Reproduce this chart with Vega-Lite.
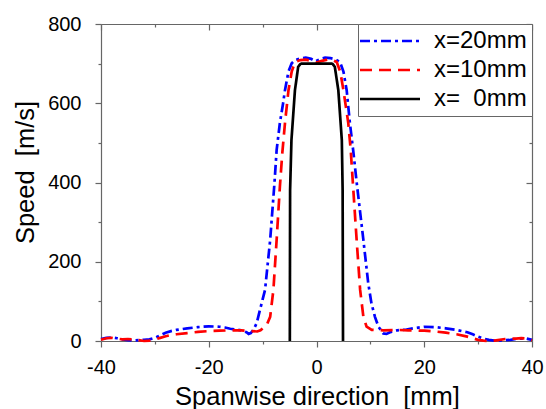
{
  "$schema": "https://vega.github.io/schema/vega-lite/v6.json",
  "width": 431,
  "height": 317,
  "autosize": "none",
  "padding": {"left": 101, "top": 24, "right": 14, "bottom": 68},
  "config": {
    "view": {"stroke": null},
    "font": "Liberation Sans",
    "axis": {
      "grid": false,
      "labelFlush": false,
      "labelOverlap": false,
      "domainColor": "#666666",
      "domainWidth": 1.2,
      "tickColor": "#666666",
      "tickWidth": 1.2,
      "labelFont": "Liberation Sans",
      "labelFontSize": 20,
      "labelColor": "#000000",
      "titleFont": "Liberation Sans",
      "titleFontSize": 25.5,
      "titleFontWeight": "normal",
      "titleColor": "#000000"
    },
    "legend": {
      "labelFont": "Liberation Sans"
    }
  },
  "resolve": {"scale": {"x": "independent", "y": "independent"}},
  "layer": [
    {
      "data": {
        "values": [
          {"series": "x=20mm", "x": -40, "y": 5},
          {"series": "x=20mm", "x": -39, "y": 8},
          {"series": "x=20mm", "x": -38, "y": 9},
          {"series": "x=20mm", "x": -37, "y": 7},
          {"series": "x=20mm", "x": -36, "y": 4},
          {"series": "x=20mm", "x": -35, "y": 2},
          {"series": "x=20mm", "x": -34, "y": 1},
          {"series": "x=20mm", "x": -33, "y": 2},
          {"series": "x=20mm", "x": -32, "y": 3},
          {"series": "x=20mm", "x": -31, "y": 4},
          {"series": "x=20mm", "x": -30, "y": 8},
          {"series": "x=20mm", "x": -29, "y": 14},
          {"series": "x=20mm", "x": -28, "y": 21},
          {"series": "x=20mm", "x": -27, "y": 25},
          {"series": "x=20mm", "x": -26, "y": 28},
          {"series": "x=20mm", "x": -24, "y": 32},
          {"series": "x=20mm", "x": -22, "y": 35},
          {"series": "x=20mm", "x": -20, "y": 37},
          {"series": "x=20mm", "x": -18, "y": 36},
          {"series": "x=20mm", "x": -17, "y": 34},
          {"series": "x=20mm", "x": -16, "y": 31},
          {"series": "x=20mm", "x": -15, "y": 29},
          {"series": "x=20mm", "x": -14, "y": 27},
          {"series": "x=20mm", "x": -13, "y": 22},
          {"series": "x=20mm", "x": -12.6, "y": 18},
          {"series": "x=20mm", "x": -12.2, "y": 20},
          {"series": "x=20mm", "x": -11.7, "y": 28},
          {"series": "x=20mm", "x": -11.1, "y": 45},
          {"series": "x=20mm", "x": -10.5, "y": 78},
          {"series": "x=20mm", "x": -10, "y": 105},
          {"series": "x=20mm", "x": -9.55, "y": 129},
          {"series": "x=20mm", "x": -8.6, "y": 255},
          {"series": "x=20mm", "x": -7.8, "y": 399},
          {"series": "x=20mm", "x": -7.4, "y": 482},
          {"series": "x=20mm", "x": -6.8, "y": 550},
          {"series": "x=20mm", "x": -6.2, "y": 600},
          {"series": "x=20mm", "x": -5.85, "y": 633},
          {"series": "x=20mm", "x": -5.2, "y": 680},
          {"series": "x=20mm", "x": -4.6, "y": 701},
          {"series": "x=20mm", "x": -4, "y": 709},
          {"series": "x=20mm", "x": -3, "y": 713},
          {"series": "x=20mm", "x": -2, "y": 715},
          {"series": "x=20mm", "x": -1, "y": 712},
          {"series": "x=20mm", "x": -0.2, "y": 706},
          {"series": "x=20mm", "x": 0.6, "y": 711},
          {"series": "x=20mm", "x": 1.6, "y": 715},
          {"series": "x=20mm", "x": 2.6, "y": 714},
          {"series": "x=20mm", "x": 3.5, "y": 711},
          {"series": "x=20mm", "x": 4.36, "y": 704},
          {"series": "x=20mm", "x": 5.0, "y": 680},
          {"series": "x=20mm", "x": 5.6, "y": 633},
          {"series": "x=20mm", "x": 6.2, "y": 550},
          {"series": "x=20mm", "x": 6.8, "y": 482},
          {"series": "x=20mm", "x": 7.5, "y": 395},
          {"series": "x=20mm", "x": 8.7, "y": 255},
          {"series": "x=20mm", "x": 9.6, "y": 146},
          {"series": "x=20mm", "x": 10.2, "y": 95},
          {"series": "x=20mm", "x": 10.85, "y": 61},
          {"series": "x=20mm", "x": 11.5, "y": 36},
          {"series": "x=20mm", "x": 12.4, "y": 19},
          {"series": "x=20mm", "x": 13, "y": 18},
          {"series": "x=20mm", "x": 13.65, "y": 22},
          {"series": "x=20mm", "x": 15, "y": 27},
          {"series": "x=20mm", "x": 16.7, "y": 29},
          {"series": "x=20mm", "x": 18, "y": 32},
          {"series": "x=20mm", "x": 20, "y": 36},
          {"series": "x=20mm", "x": 22, "y": 35},
          {"series": "x=20mm", "x": 24, "y": 32},
          {"series": "x=20mm", "x": 26, "y": 28},
          {"series": "x=20mm", "x": 28, "y": 22},
          {"series": "x=20mm", "x": 29, "y": 17},
          {"series": "x=20mm", "x": 30, "y": 11},
          {"series": "x=20mm", "x": 31, "y": 6},
          {"series": "x=20mm", "x": 32, "y": 3},
          {"series": "x=20mm", "x": 33, "y": 1},
          {"series": "x=20mm", "x": 34, "y": 1},
          {"series": "x=20mm", "x": 35, "y": 2},
          {"series": "x=20mm", "x": 36, "y": 3},
          {"series": "x=20mm", "x": 37, "y": 5},
          {"series": "x=20mm", "x": 38, "y": 6},
          {"series": "x=20mm", "x": 39, "y": 6},
          {"series": "x=20mm", "x": 40, "y": 3},

          {"series": "x=10mm", "x": -40, "y": 3},
          {"series": "x=10mm", "x": -39, "y": 7},
          {"series": "x=10mm", "x": -38, "y": 8},
          {"series": "x=10mm", "x": -37, "y": 6},
          {"series": "x=10mm", "x": -36, "y": 4},
          {"series": "x=10mm", "x": -35, "y": 5},
          {"series": "x=10mm", "x": -34, "y": 4},
          {"series": "x=10mm", "x": -33, "y": 2},
          {"series": "x=10mm", "x": -32, "y": 0},
          {"series": "x=10mm", "x": -31, "y": 1},
          {"series": "x=10mm", "x": -30, "y": 4},
          {"series": "x=10mm", "x": -29, "y": 8},
          {"series": "x=10mm", "x": -28, "y": 12},
          {"series": "x=10mm", "x": -27, "y": 15},
          {"series": "x=10mm", "x": -26, "y": 17},
          {"series": "x=10mm", "x": -24, "y": 20},
          {"series": "x=10mm", "x": -22, "y": 23},
          {"series": "x=10mm", "x": -20, "y": 25},
          {"series": "x=10mm", "x": -18, "y": 26},
          {"series": "x=10mm", "x": -16, "y": 27},
          {"series": "x=10mm", "x": -14, "y": 27},
          {"series": "x=10mm", "x": -12, "y": 25},
          {"series": "x=10mm", "x": -11, "y": 24},
          {"series": "x=10mm", "x": -10.4, "y": 27},
          {"series": "x=10mm", "x": -9.9, "y": 33},
          {"series": "x=10mm", "x": -9.25, "y": 40},
          {"series": "x=10mm", "x": -8.6, "y": 61},
          {"series": "x=10mm", "x": -8.0, "y": 129},
          {"series": "x=10mm", "x": -7.4, "y": 255},
          {"series": "x=10mm", "x": -6.8, "y": 389},
          {"series": "x=10mm", "x": -6.35, "y": 474},
          {"series": "x=10mm", "x": -5.85, "y": 550},
          {"series": "x=10mm", "x": -5.2, "y": 633},
          {"series": "x=10mm", "x": -4.6, "y": 680},
          {"series": "x=10mm", "x": -4.0, "y": 704},
          {"series": "x=10mm", "x": -3, "y": 709},
          {"series": "x=10mm", "x": -2, "y": 710},
          {"series": "x=10mm", "x": -1, "y": 707},
          {"series": "x=10mm", "x": 0, "y": 703},
          {"series": "x=10mm", "x": 1, "y": 707},
          {"series": "x=10mm", "x": 2, "y": 710},
          {"series": "x=10mm", "x": 3, "y": 709},
          {"series": "x=10mm", "x": 3.75, "y": 704},
          {"series": "x=10mm", "x": 4.4, "y": 680},
          {"series": "x=10mm", "x": 5.0, "y": 633},
          {"series": "x=10mm", "x": 5.9, "y": 550},
          {"series": "x=10mm", "x": 6.35, "y": 482},
          {"series": "x=10mm", "x": 6.8, "y": 389},
          {"series": "x=10mm", "x": 7.45, "y": 255},
          {"series": "x=10mm", "x": 8.1, "y": 129},
          {"series": "x=10mm", "x": 8.7, "y": 61},
          {"series": "x=10mm", "x": 9.3, "y": 36},
          {"series": "x=10mm", "x": 10.25, "y": 28},
          {"series": "x=10mm", "x": 12.4, "y": 27},
          {"series": "x=10mm", "x": 14.9, "y": 28},
          {"series": "x=10mm", "x": 17, "y": 27},
          {"series": "x=10mm", "x": 20, "y": 26},
          {"series": "x=10mm", "x": 22, "y": 24},
          {"series": "x=10mm", "x": 24, "y": 21},
          {"series": "x=10mm", "x": 26, "y": 17},
          {"series": "x=10mm", "x": 28, "y": 11},
          {"series": "x=10mm", "x": 29, "y": 7},
          {"series": "x=10mm", "x": 30, "y": 3},
          {"series": "x=10mm", "x": 31, "y": 1},
          {"series": "x=10mm", "x": 32, "y": 0},
          {"series": "x=10mm", "x": 33, "y": 1},
          {"series": "x=10mm", "x": 34, "y": 3},
          {"series": "x=10mm", "x": 35, "y": 5},
          {"series": "x=10mm", "x": 36, "y": 6},
          {"series": "x=10mm", "x": 37, "y": 6},
          {"series": "x=10mm", "x": 38, "y": 7},
          {"series": "x=10mm", "x": 39, "y": 6},
          {"series": "x=10mm", "x": 40, "y": 2},

          {"series": "x=\u00a0 0mm", "x": -4.95, "y": 0},
          {"series": "x=\u00a0 0mm", "x": -4.9, "y": 381},
          {"series": "x=\u00a0 0mm", "x": -4.65, "y": 507},
          {"series": "x=\u00a0 0mm", "x": -4.0, "y": 633},
          {"series": "x=\u00a0 0mm", "x": -3.4, "y": 692},
          {"series": "x=\u00a0 0mm", "x": -3.0, "y": 699},
          {"series": "x=\u00a0 0mm", "x": -2.8, "y": 700},
          {"series": "x=\u00a0 0mm", "x": 2.8, "y": 700},
          {"series": "x=\u00a0 0mm", "x": 3.0, "y": 699},
          {"series": "x=\u00a0 0mm", "x": 3.4, "y": 692},
          {"series": "x=\u00a0 0mm", "x": 4.05, "y": 633},
          {"series": "x=\u00a0 0mm", "x": 4.7, "y": 507},
          {"series": "x=\u00a0 0mm", "x": 4.85, "y": 381},
          {"series": "x=\u00a0 0mm", "x": 4.92, "y": 0}
        ]
      },
      "mark": {"type": "line", "strokeWidth": 2.7},
      "encoding": {
        "x": {
          "field": "x", "type": "quantitative",
          "scale": {"domain": [-40, 40], "nice": false, "zero": false},
          "axis": {
            "orient": "bottom", "values": [-40, -20, 0, 20, 40],
            "tickSize": 6, "labelPadding": 10,
            "labelExpr": "toString(datum.value)",
            "title": "Spanwise direction\u00a0 [mm]",
            "titleX": 216, "titleY": 63, "titleBaseline": "alphabetic", "titleAlign": "center"
          }
        },
        "y": {
          "field": "y", "type": "quantitative",
          "scale": {"domain": [0, 800], "nice": false, "zero": false},
          "axis": {
            "orient": "left", "values": [0, 200, 400, 600, 800],
            "tickSize": 6, "labelPadding": 14,
            "title": "Speed\u00a0 [m/s]",
            "titleX": -76, "titleY": 148, "titleBaseline": "middle", "titleAlign": "center", "titleAngle": 270
          }
        },
        "color": {
          "field": "series", "type": "nominal",
          "scale": {"domain": ["x=20mm", "x=10mm", "x=\u00a0 0mm"], "range": ["#0000ff", "#ff0000", "#000000"]},
          "legend": {
            "title": null, "orient": "top-right", "offset": 0,
            "strokeColor": "#666666", "fillColor": "#ffffff", "padding": 5,
            "symbolType": "M-3,0H3", "symbolSize": 400, "symbolStrokeWidth": 2.7,
            "symbolOffset": 15, "labelOffset": 32, "labelFontSize": 24, "rowPadding": 5
          }
        },
        "strokeDash": {
          "field": "series", "type": "nominal",
          "scale": {"domain": ["x=20mm", "x=10mm", "x=\u00a0 0mm"], "range": [[10, 4, 3, 4], [12, 7], [1, 0]]},
          "legend": {
            "title": null, "orient": "top-right", "offset": 0,
            "strokeColor": "#666666", "fillColor": "#ffffff", "padding": 5,
            "symbolType": "M-3,0H3", "symbolSize": 400, "symbolStrokeWidth": 2.7,
            "symbolOffset": 15, "labelOffset": 32, "labelFontSize": 24, "rowPadding": 5
          }
        }
      }
    },
    {
      "data": {"values": [{"x": 0, "y": 0}]},
      "mark": {"type": "point", "opacity": 0},
      "encoding": {
        "x": {
          "field": "x", "type": "quantitative",
          "scale": {"domain": [-40, 40], "nice": false, "zero": false},
          "axis": {"orient": "bottom", "values": [-30, -10, 10, 30], "tickSize": 3, "labels": false, "domain": false, "title": null}
        },
        "y": {
          "field": "y", "type": "quantitative",
          "scale": {"domain": [0, 800], "nice": false, "zero": false},
          "axis": {"orient": "left", "values": [100, 300, 500, 700], "tickSize": 3, "labels": false, "domain": false, "title": null}
        }
      }
    },
    {
      "data": {"values": [{"x": 0, "y": 0}]},
      "mark": {"type": "point", "opacity": 0},
      "encoding": {
        "x": {
          "field": "x", "type": "quantitative",
          "scale": {"domain": [-40, 40], "nice": false, "zero": false},
          "axis": {"orient": "top", "values": [-40, -20, 0, 20, 40], "tickSize": -6, "labels": false, "domain": true, "title": null}
        },
        "y": {
          "field": "y", "type": "quantitative",
          "scale": {"domain": [0, 800], "nice": false, "zero": false},
          "axis": {"orient": "right", "values": [0, 200, 400, 600, 800], "tickSize": -6, "labels": false, "domain": true, "title": null}
        }
      }
    },
    {
      "data": {"values": [{"x": 0, "y": 0}]},
      "mark": {"type": "point", "opacity": 0},
      "encoding": {
        "x": {
          "field": "x", "type": "quantitative",
          "scale": {"domain": [-40, 40], "nice": false, "zero": false},
          "axis": {"orient": "top", "values": [-30, -10, 10, 30], "tickSize": -3, "labels": false, "domain": false, "title": null}
        },
        "y": {
          "field": "y", "type": "quantitative",
          "scale": {"domain": [0, 800], "nice": false, "zero": false},
          "axis": {"orient": "right", "values": [100, 300, 500, 700], "tickSize": -3, "labels": false, "domain": false, "title": null}
        }
      }
    }
  ]
}
